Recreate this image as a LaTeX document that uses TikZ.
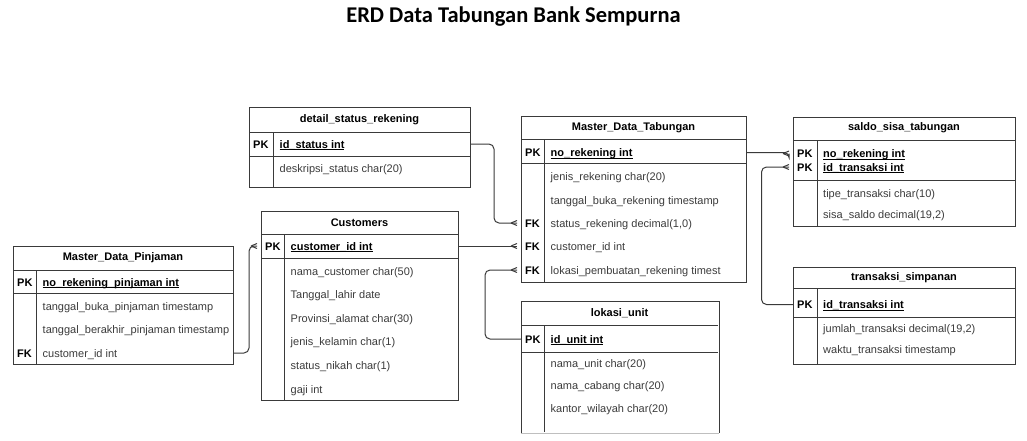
\documentclass[tikz,border=0pt]{standalone}
\usepackage{fontspec}
\setmainfont{Liberation Sans}
\newfontfamily\titlefont{Carlito}
\usetikzlibrary{positioning,calc}

\definecolor{boxline}{HTML}{3A3A3A}
\definecolor{fieldtext}{HTML}{3C3C3C}

\tikzset{
  box/.style={draw=boxline, line width=1pt, anchor=north west, inner sep=0pt, fill=white},
  rule/.style={draw=boxline, line width=1pt},
  head/.style={font=\bfseries\fontsize{11}{13}\selectfont, text=black},
  key/.style={font=\bfseries\fontsize{11}{13}\selectfont, text=black, anchor=west,
    inner sep=0pt, text height=8pt, text depth=0pt},
  field/.style={font=\fontsize{11}{13}\selectfont, text=fieldtext, anchor=west,
    inner sep=0pt, text height=8pt, text depth=0pt},
  pkfield/.style={field, font=\bfseries\fontsize{11}{13}\selectfont, text=black},
  link/.style={draw=boxline, line width=1pt, rounded corners=5pt},
}
\newcommand{\pkname}[1]{\underline{\smash{#1}}}
\newcommand{\crowfoot}[1]{\draw[link] (#1) ++(-6,0) -- ++(6,2.5) (#1) ++(-6,0) -- ++(6,-2.5);}

\begin{document}
\begin{tikzpicture}[x=1pt,y=-1pt]
\useasboundingbox (0,0) rectangle (1027,440);

\node[font=\titlefont\bfseries\fontsize{22.5}{26}\selectfont] (title) at (513.5,17) {ERD Data Tabungan Bank Sempurna};

% detail_status_rekening
\node[box, minimum width=221pt, minimum height=80pt] (det) at (249,107) {};
\draw[rule] (249,132) -- (470,132) (249,156) -- (470,156) (273,132) -- (273,187);
\node[head] (det-name) at (359.5,119.5) {detail\_status\_rekening};
\node[key] (det-pk) at (253,144) {PK};
\node[pkfield] (det-f1) at (279.5,144) {\pkname{id\_status int}};
\node[field] (det-f2) at (279.5,168) {deskripsi\_status char(20)};

% Customers
\node[box, minimum width=197pt, minimum height=189pt] (cust) at (261,211) {};
\draw[rule] (261,234) -- (458,234) (261,258) -- (458,258) (284,234) -- (284,400);
\node[head] (cust-name) at (359.5,222.5) {Customers};
\node[key] (cust-pk) at (265,246) {PK};
\node[pkfield] (cust-f1) at (290.5,246) {\pkname{customer\_id int}};
\node[field] (cust-f2) at (290.5,271) {nama\_customer char(50)};
\node[field] (cust-f3) at (290.5,294) {Tanggal\_lahir date};
\node[field] (cust-f4) at (290.5,318) {Provinsi\_alamat char(30)};
\node[field] (cust-f5) at (290.5,341) {jenis\_kelamin char(1)};
\node[field] (cust-f6) at (290.5,365) {status\_nikah char(1)};
\node[field] (cust-f7) at (290.5,389) {gaji int};

% Master_Data_Pinjaman
\node[box, minimum width=220pt, minimum height=118pt] (pin) at (13,246) {};
\draw[rule] (13,270) -- (233,270) (13,293) -- (233,293) (36,270) -- (36,364);
\node[head] (pin-name) at (123,258) {Master\_Data\_Pinjaman};
\node[key] (pin-pk) at (17,282) {PK};
\node[pkfield] (pin-f1) at (42.5,282) {\pkname{no\_rekening\_pinjaman int}};
\node[field] (pin-f2) at (42.5,306) {tanggal\_buka\_pinjaman timestamp};
\node[field] (pin-f3) at (42.5,329) {tanggal\_berakhir\_pinjaman timestamp};
\node[key] (pin-fk) at (17,353) {FK};
\node[field] (pin-f4) at (42.5,353) {customer\_id int};

% Master_Data_Tabungan
\node[box, minimum width=225pt, minimum height=166pt] (tab) at (521,116) {};
\draw[rule] (521,139.5) -- (746,139.5) (521,163.5) -- (746,163.5) (544,139.5) -- (544,282);
\node[head] (tab-name) at (633.5,128) {Master\_Data\_Tabungan};
\node[key] (tab-pk) at (525,152.5) {PK};
\node[pkfield] (tab-f1) at (550.5,152.5) {\pkname{no\_rekening int}};
\node[field] (tab-f2) at (550.5,176.5) {jenis\_rekening char(20)};
\node[field] (tab-f3) at (550.5,200) {tanggal\_buka\_rekening timestamp};
\node[key] (tab-fk1) at (525,223) {FK};
\node[field] (tab-f4) at (550.5,223) {status\_rekening decimal(1,0)};
\node[key] (tab-fk2) at (525,246) {FK};
\node[field] (tab-f5) at (550.5,246) {customer\_id int};
\node[key] (tab-fk3) at (525,270) {FK};
\begin{scope}
\clip (545,258) rectangle (720.5,281);
\node[field] (tab-f6) at (550.5,270) {lokasi\_pembuatan\_rekening timestamp};
\end{scope}

% lokasi_unit
\node[box, draw=none, minimum width=197pt, minimum height=130.5pt] (lok) at (521,301.5) {};
\draw[rule] (lok.south west) -- (lok.north west) -- (lok.north east) -- (lok.south east);
\draw[black!25, line width=1pt] (lok.south west) -- (lok.south east);
\draw[rule] (521,325) -- (718,325) (521,352) -- (718,352) (544,325) -- (544,432);
\node[head] (lok-name) at (619.5,313) {lokasi\_unit};
\node[key] (lok-pk) at (525,339) {PK};
\node[pkfield] (lok-f1) at (550.5,339) {\pkname{id\_unit int}};
\node[field] (lok-f2) at (550.5,363) {nama\_unit char(20)};
\node[field] (lok-f3) at (550.5,385) {nama\_cabang char(20)};
\node[field] (lok-f4) at (550.5,408) {kantor\_wilayah char(20)};

% saldo_sisa_tabungan
\node[box, minimum width=222pt, minimum height=109pt] (sal) at (793,116.5) {};
\draw[rule] (793,140) -- (1015,140) (793,180) -- (1015,180) (817,140) -- (817,225.5);
\node[head] (sal-name) at (904,128) {saldo\_sisa\_tabungan};
\node[key] (sal-pk1) at (797,153.5) {PK};
\node[pkfield] (sal-f1) at (823,153.5) {\pkname{no\_rekening int}};
\node[key] (sal-pk2) at (797,167) {PK};
\node[pkfield] (sal-f2) at (823,167) {\pkname{id\_transaksi int}};
\node[field] (sal-f3) at (823,193) {tipe\_transaksi char(10)};
\node[field] (sal-f4) at (823,214) {sisa\_saldo decimal(19,2)};

% transaksi_simpanan
\node[box, minimum width=222pt, minimum height=97pt] (trx) at (793,266.5) {};
\draw[rule] (793,288.5) -- (1015,288.5) (793,317) -- (1015,317) (817,288.5) -- (817,363.5);
\node[head] (trx-name) at (904,277.5) {transaksi\_simpanan};
\node[key] (trx-pk) at (797,304.5) {PK};
\node[pkfield] (trx-f1) at (823,304.5) {\pkname{id\_transaksi int}};
\node[field] (trx-f2) at (823,328) {jumlah\_transaksi decimal(19,2)};
\node[field] (trx-f3) at (823,349.5) {waktu\_transaksi timestamp};

% relations
\coordinate (end-cust) at ([xshift=-4pt]cust.west |- cust-pk);
\coordinate (end-stat) at ([xshift=-4pt]tab.west |- tab-fk1);
\coordinate (end-tcus) at ([xshift=-4pt]tab.west |- tab-fk2);
\coordinate (end-lok) at ([xshift=-4pt]tab.west |- tab-fk3);
\coordinate (end-rek) at ([xshift=-4pt]sal.west |- sal-pk1);
\coordinate (end-trx) at ([xshift=-4pt]sal.west |- sal-pk2);

\draw[link] (pin.east |- pin-fk) -- ++(15,0) |- (end-cust);
\draw[link] (det.east |- det-pk) -- ++(23,0) |- (end-stat);
\draw[link] (cust.east |- cust-pk) -- (end-tcus);
\draw[link] (lok.west |- lok-pk) -- ++(-36,0) |- (end-lok);
\draw[link] (tab.east |- tab-pk) -- (end-rek |- tab-pk) -- (end-rek);
\draw[link] (trx.west |- trx-pk) -- ++(-31.5,0) |- (end-trx);
\crowfoot{end-cust}
\crowfoot{end-stat}
\crowfoot{end-tcus}
\crowfoot{end-lok}
\crowfoot{end-rek}
\crowfoot{end-trx}
\end{tikzpicture}
\end{document}
